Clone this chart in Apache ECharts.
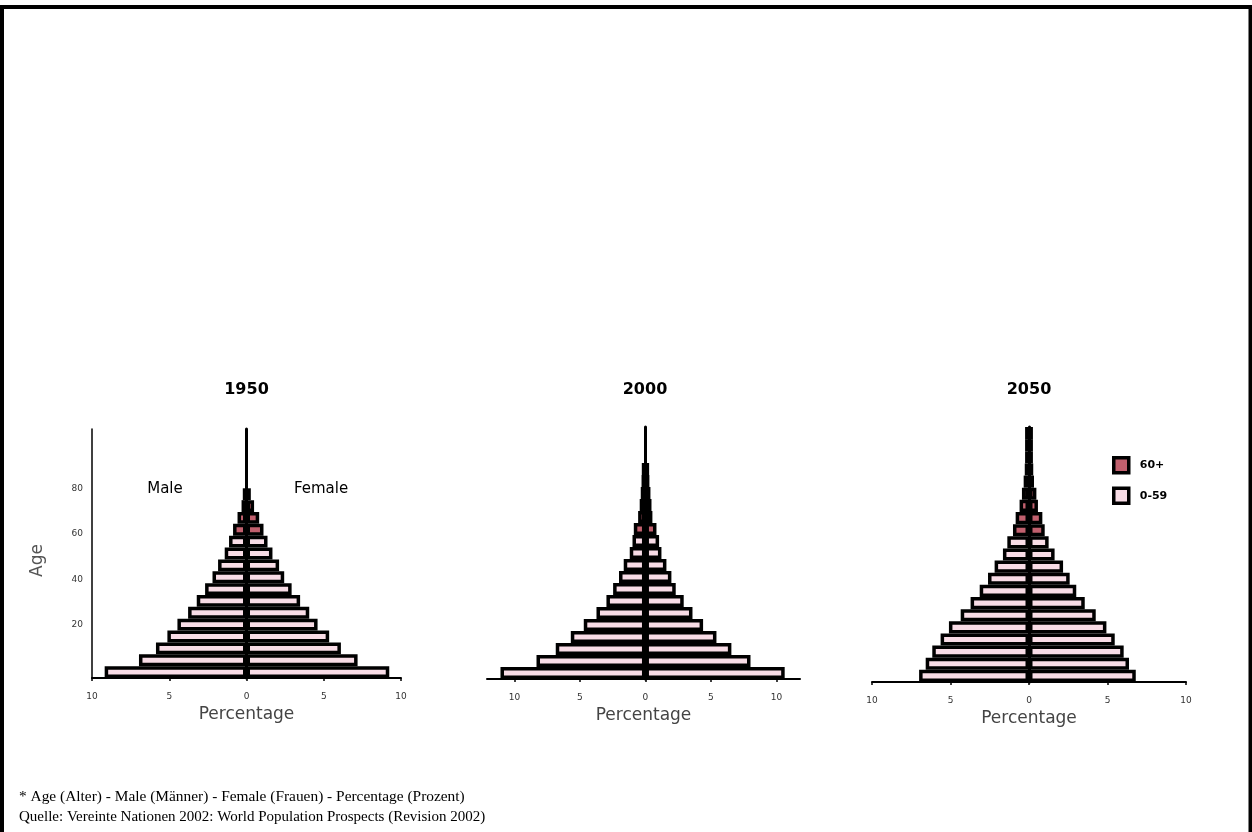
<!DOCTYPE html>
<html>
<head>
<meta charset="utf-8">
<script src="https://cdn.jsdelivr.net/npm/echarts@6/dist/echarts.min.js"></script>
<style>
html,body{margin:0;padding:0;background:#fff;}
#chart{width:1252px;height:832px;}
</style>
</head>
<body>
<div id="chart"></div>
<script>
// ---- data ----
const ageGroups = ['0-4','5-9','10-14','15-19','20-24','25-29','30-34','35-39','40-44','45-49','50-54','55-59','60-64','65-69','70-74','75-79','80-84','85-89','90-94','95-99','100+'];
const firstOldIndex = 12; // 60-64 is the first 60+ group
const years = ['1950', '2000', '2050'];
const male1950   = [9.18, 6.96, 5.86, 5.12, 4.47, 3.78, 3.22, 2.68, 2.2, 1.84, 1.41, 1.13, 0.87, 0.58, 0.32, 0.24, null, null, null, null, null];
const female1950 = [9.24, 7.19, 6.11, 5.35, 4.6, 4.06, 3.47, 2.92, 2.44, 2.11, 1.68, 1.36, 1.1, 0.82, 0.49, 0.28, null, null, null, null, null];
const male2000   = [11.07, 8.32, 6.85, 5.7, 4.71, 3.74, 2.98, 2.47, 2.02, 1.66, 1.2, 0.99, 0.89, 0.56, 0.44, 0.36, 0.3, 0.28, null, null, null];
const female2000 = [10.63, 8.02, 6.56, 5.42, 4.4, 3.59, 2.92, 2.31, 1.98, 1.6, 1.22, 1.04, 0.84, 0.53, 0.46, 0.38, 0.3, 0.28, null, null, null];
const male2050   = [7.0, 6.58, 6.16, 5.63, 5.1, 4.35, 3.72, 3.14, 2.61, 2.19, 1.66, 1.38, 1.02, 0.85, 0.6, 0.45, 0.34, 0.27, 0.25, 0.25, 0.25];
const female2050 = [6.8, 6.37, 6.03, 5.46, 4.93, 4.25, 3.55, 3.01, 2.59, 2.17, 1.63, 1.25, 1.0, 0.85, 0.57, 0.47, 0.32, 0.27, 0.25, 0.25, 0.25];
const xTickValues = [-10, -5, 0, 5, 10];
const ageTickValues = [20, 40, 60, 80];
const legendNames = ['60+', '0-59'];
const footnote1 = '* Age (Alter) - Male (Männer) - Female (Frauen) - Percentage (Prozent)';
const footnote2 = 'Quelle: Vereinte Nationen 2002: World Population Prospects (Revision 2002)';

// ---- styling ----
const PINK = '#f8dce6', RED = '#c1606e', BLACK = '#000';
const SANS = 'DejaVu Sans';
const BORDER = 3.5;
const panels = [
  { male: male1950, female: female1950, grid: {left: 92, top: 429, width: 309, height: 249}, min: -10, max: 10 },
  { male: male2000, female: female2000, grid: {left: 487, top: 427, width: 313, height: 252}, min: -12.1, max: 11.8 },
  { male: male2050, female: female2050, grid: {left: 872, top: 427, width: 314, height: 255}, min: -10, max: 10 }
];

const grids = [], xAxes = [], yAxes = [], series = [];
panels.forEach((p, i) => {
  grids.push(Object.assign({containLabel: false}, p.grid));
  xAxes.push({
    type: 'value', gridIndex: i, min: p.min, max: p.max,
    axisLine: {show: true, onZero: false, lineStyle: {color: BLACK, width: 2}},
    axisTick: {show: true, length: 3, customValues: xTickValues, lineStyle: {color: BLACK, width: 1.5}},
    axisLabel: {customValues: xTickValues, formatter: v => String(Math.abs(v)), fontFamily: SANS, fontSize: 9, color: '#333', margin: 14},
    splitLine: {show: false},
    name: 'Percentage', nameLocation: 'middle', nameGap: 28,
    nameTextStyle: {fontFamily: SANS, fontSize: 17, color: '#444'}
  });
  const catIndex = yAxes.length;
  yAxes.push({
    type: 'category', gridIndex: i, data: ageGroups, position: 'left',
    axisLine: {show: true, onZero: true, lineStyle: {color: BLACK, width: 3}},
    axisTick: {show: false}, axisLabel: {show: false}, splitLine: {show: false}
  });
  if (i === 0) {
    yAxes.push({
      type: 'value', gridIndex: 0, position: 'left', min: -3.2, max: 106,
      axisLine: {show: true, onZero: false, lineStyle: {color: BLACK, width: 1.5}},
      axisTick: {show: false},
      axisLabel: {customValues: ageTickValues, fontFamily: SANS, fontSize: 9, color: '#333', margin: 9},
      splitLine: {show: false},
      name: 'Age', nameLocation: 'middle', nameGap: 46, nameRotate: 90,
      nameTextStyle: {fontFamily: SANS, fontSize: 17, color: '#555', padding: [0, 14, 0, 0]}
    });
  }
  const mk = (arr, sign, old) => arr.map((v, k) => {
    if (v === null) return '-';
    const isOld = k >= firstOldIndex;
    return isOld === old ? sign * v : '-';
  });
  const common = {
    type: 'bar', xAxisIndex: i, yAxisIndex: catIndex,
    barCategoryGap: '0%', barGap: '-100%', silent: true,
    animation: false
  };
  series.push(Object.assign({name: '0-59', data: mk(p.male, -1, false), itemStyle: {color: PINK, borderColor: BLACK, borderWidth: BORDER}}, common));
  series.push(Object.assign({name: '60+', data: mk(p.male, -1, true), itemStyle: {color: RED, borderColor: BLACK, borderWidth: BORDER}}, common));
  series.push(Object.assign({name: '0-59', data: mk(p.female, 1, false), itemStyle: {color: PINK, borderColor: BLACK, borderWidth: BORDER}}, common));
  series.push(Object.assign({name: '60+', data: mk(p.female, 1, true), itemStyle: {color: RED, borderColor: BLACK, borderWidth: BORDER}}, common));
});

const titleX = [246.5, 645, 1029];
const graphics = years.map((y, i) => ({
  type: 'text', silent: true,
  style: {x: titleX[i], y: 390, text: y, font: 'bold 16px "DejaVu Sans"', fill: '#000', textAlign: 'center', textVerticalAlign: 'middle'}
}));
graphics.push(
  {type: 'text', silent: true, style: {x: 165, y: 489, text: 'Male', font: '15px "DejaVu Sans"', fill: '#000', textAlign: 'center', textVerticalAlign: 'middle'}},
  {type: 'text', silent: true, style: {x: 321, y: 489, text: 'Female', font: '15px "DejaVu Sans"', fill: '#000', textAlign: 'center', textVerticalAlign: 'middle'}},
  {type: 'text', silent: true, style: {x: 19, y: 797, text: footnote1, font: '15.4px "Liberation Serif"', fill: '#000', textAlign: 'left', textVerticalAlign: 'middle'}},
  {type: 'text', silent: true, style: {x: 19, y: 817, text: footnote2, font: '15px "Liberation Serif"', fill: '#000', textAlign: 'left', textVerticalAlign: 'middle'}},
  {type: 'polyline', silent: true, shape: {points: [[2, 832], [2, 7], [1250.5, 7], [1250.5, 832]]}, style: {stroke: '#000', lineWidth: 4, fill: null}}
);

const chart = echarts.init(document.getElementById('chart'), null, {renderer: 'canvas'});
chart.setOption({
  animation: false,
  backgroundColor: '#fff',
  grid: grids,
  xAxis: xAxes,
  yAxis: yAxes,
  series: series,
  legend: {
    data: legendNames, orient: 'vertical', left: 1107, top: 451,
    itemWidth: 15, itemHeight: 15, itemGap: 12, icon: 'rect',
    itemStyle: {borderColor: BLACK, borderWidth: 3.5},
    textStyle: {fontFamily: SANS, fontSize: 11, fontWeight: 'bold', color: '#000', padding: [0, 0, 0, 6]},
    selectedMode: false
  },
  graphic: graphics
});
</script>
</body>
</html>
